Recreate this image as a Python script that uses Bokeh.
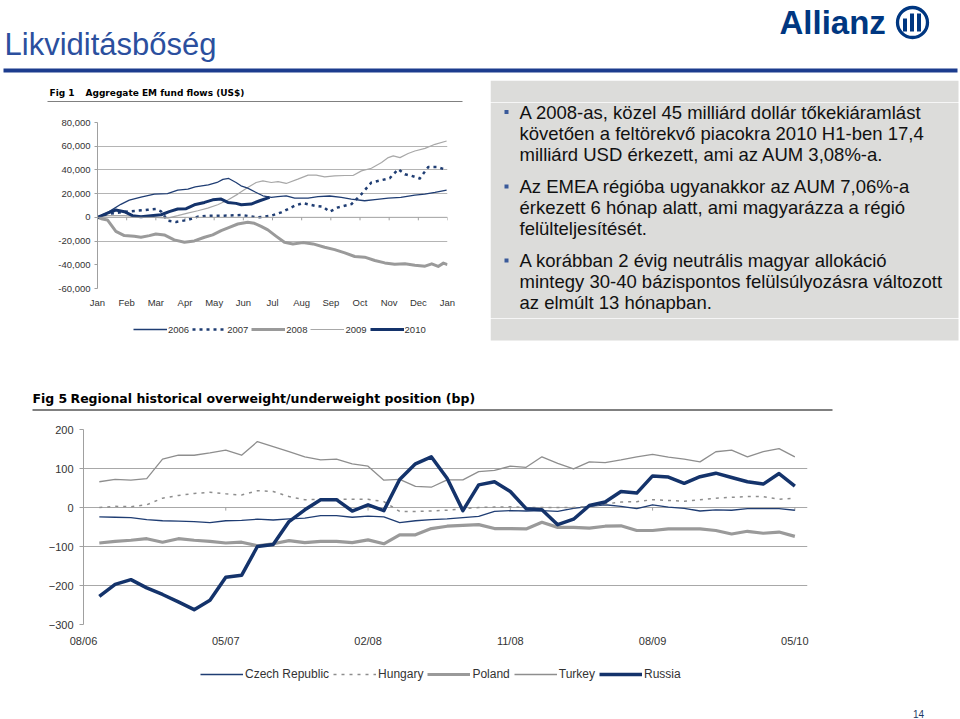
from bokeh.plotting import figure
from bokeh.models import Range1d, FixedTicker, NumeralTickFormatter, Legend, LegendItem, Span
from bokeh.layouts import column, row
from bokeh.embed import file_html
from bokeh.resources import INLINE
from bokeh.core.properties import value

# ---------------- data ----------------
slide_title = "Likviditásbőség"
fig1_title = "Aggregate EM fund flows (US$)"
fig5_title = "Regional historical overweight/underweight position (bp)"

months1 = ["Jan", "Feb", "Mar", "Apr", "May", "Jun", "Jul", "Aug", "Sep", "Oct", "Nov", "Dec", "Jan"]
years1 = ["2006", "2007", "2008", "2009", "2010"]

f06_x = [0, 0.34, 0.8, 1.09, 1.49, 1.95, 2.4, 2.75, 3.1, 3.35, 3.8, 4.1, 4.3, 4.5, 4.75, 4.92, 5.15, 5.44, 5.67,
         5.96, 6.18, 6.47, 6.76, 7.22, 7.56, 7.96, 8.36, 8.7, 9.16, 9.51, 9.97, 10.4, 10.88, 11.22, 11.57, 11.97]
f06_y = [0, 4000, 11000, 14500, 17000, 19600, 20000, 23000, 23800, 25700, 27400, 29400, 32000, 32800, 29400,
         26600, 24600, 21000, 18200, 16800, 17400, 18200, 16200, 16200, 17400, 18000, 16800, 15400, 14000, 15000,
         16200, 16800, 18800, 19600, 21000, 23000]

f07_x = [0, 0.34, 0.97, 1.37, 1.72, 2.0, 2.18, 2.41, 2.69, 3.09, 3.44, 3.78, 4.35, 4.93, 5.5, 5.96, 6.3, 6.76,
         7.04, 7.45, 7.73, 7.96, 8.25, 8.71, 9.05, 9.39, 9.74, 10.02, 10.31, 10.54, 10.77, 11.05, 11.34, 11.63, 11.97]
f07_y = [0, 2800, 4800, 5600, 6400, 7000, 5000, -2800, -3900, -2200, 600, 1400, 1400, 2000, 0, 1400, 4200, 9800,
         12000, 9800, 9000, 4800, 8400, 11200, 19600, 29400, 31400, 33000, 40600, 36400, 35000, 32800, 42500,
         42500, 40000]

f08_x = [0, 0.17, 0.34, 0.63, 0.92, 1.26, 1.49, 1.78, 2.0, 2.29, 2.63, 2.98, 3.32, 3.67, 3.95, 4.24, 4.52, 4.81,
         5.15, 5.38, 5.61, 5.84, 6.13, 6.41, 6.7, 7.04, 7.39, 7.79, 8.13, 8.48, 8.82, 9.16, 9.51, 9.85, 10.19,
         10.54, 10.88, 11.23, 11.46, 11.68, 11.86, 12.0]
f08_y = [0, -1400, -2200, -11800, -15400, -16000, -16800, -15400, -14000, -14800, -19000, -21000, -19900, -16800,
         -14800, -11200, -8400, -5600, -4200, -5000, -7600, -10600, -16000, -21000, -22400, -21300, -22400,
         -25200, -27200, -30000, -33000, -33600, -36400, -38400, -39500, -39200, -40300, -41200, -39200, -41400,
         -38600, -39800]

f09_x = [0, 0.34, 0.92, 1.49, 2.0, 2.41, 2.75, 3.09, 3.44, 3.78, 4.12, 4.47, 4.81, 5.15, 5.44, 5.67, 5.96, 6.19,
         6.47, 6.87, 7.22, 7.5, 7.79, 8.13, 8.48, 8.76, 9.05, 9.39, 9.74, 9.97, 10.14, 10.37, 10.65, 10.88, 11.23,
         11.57, 11.97]
f09_y = [0, 1400, 1400, 600, 0, -600, 1400, 3600, 5600, 7800, 10600, 14600, 19600, 25200, 29400, 30800, 29400,
         30200, 28600, 32200, 35600, 35600, 34200, 35000, 35300, 35300, 39200, 41400, 46200, 50400, 51800, 50400,
         53800, 56000, 58200, 61600, 64400]

f10_x = [0, 0.34, 0.63, 0.92, 1.2, 1.49, 1.83, 2.18, 2.46, 2.75, 3.04, 3.32, 3.67, 3.95, 4.24, 4.47, 4.75, 4.93,
         5.27, 5.56, 5.9]
f10_y = [0, 3600, 6200, 4800, 1400, 600, 1400, 2200, 4800, 7000, 7300, 10600, 12600, 14800, 15400, 12600, 11800,
         10600, 11200, 14000, 16800]

fig1_yticks = [-60000, -40000, -20000, 0, 20000, 40000, 60000, 80000]
fig1_grid = [-20000, 20000, 40000, 60000, 80000]

# Fig 5: monthly, month index counted from 08/06
months5 = list(range(1, 46))
fig5_tick_pos = [0, 9, 18, 27, 36, 45]
fig5_tick_lab = ["08/06", "05/07", "02/08", "11/08", "08/09", "05/10"]
fig5_yticks = [-300, -200, -100, 0, 100, 200]
countries = ["Czech Republic", "Hungary", "Poland", "Turkey", "Russia"]

czech = [-24, -25, -26, -31, -34, -35, -36, -39, -34, -33, -30, -32, -29, -27, -21, -21, -25, -22, -24, -39,
         -34, -31, -29, -26, -23, -10, -8, -9, -8, -10, -2, 3, 7, 3, -3, 7, 1, -2, -9, -6, -7, -3, -3, -3, -7]
hungary = [0, 3, 2, 7, 24, 31, 36, 39, 35, 32, 43, 41, 28, 20, 21, 21, 21, 21, 15, -10, -10, -9, -7, -3, 0, 1,
           2, 0, 0, 0, 0, 3, 9, 14, 15, 20, 18, 16, 20, 24, 26, 28, 28, 21, 24]
poland = [-91, -87, -84, -80, -89, -80, -84, -87, -91, -89, -98, -93, -85, -90, -87, -87, -90, -83, -93, -70,
          -70, -54, -48, -46, -44, -54, -54, -55, -38, -51, -51, -53, -48, -47, -59, -59, -55, -55, -55, -59,
          -68, -61, -66, -63, -74]
turkey = [66, 72, 70, 74, 124, 134, 134, 140, 147, 134, 169, 156, 143, 130, 122, 124, 112, 106, 70, 72, 54, 52,
          71, 71, 92, 95, 106, 103, 130, 113, 99, 117, 115, 122, 130, 136, 129, 124, 117, 143, 147, 130, 143, 151,
          130]
russia = [-228, -197, -185, -206, -223, -242, -262, -238, -179, -174, -100, -95, -36, -6, 20, 20, -9, 7, -8, 72,
          112, 130, 75, -8, 58, 66, 41, -3, -6, -44, -30, 5, 14, 41, 37, 81, 78, 62, 79, 88, 77, 66, 60, 87, 55]

bullets = [
    ["A 2008-as, közel 45 milliárd dollár tőkekiáramlást",
     "követően a feltörekvő piacokra 2010 H1-ben 17,4",
     "milliárd USD érkezett, ami az AUM 3,08%-a."],
    ["Az EMEA régióba ugyanakkor az AUM 7,06%-a",
     "érkezett 6 hónap alatt, ami magyarázza a régió",
     "felülteljesítését."],
    ["A korábban 2 évig neutrális magyar allokáció",
     "mintegy 30-40 bázispontos felülsúlyozásra változott",
     "az elmúlt 13 hónapban."],
]
page_no = "14"

# ---------------- styles ----------------
FONT = "Liberation Sans"
TFONT = "DejaVu Sans"
NAVY_THICK = "#14336B"
NAVY_THIN = "#1F3D73"
GRAY_THICK = "#9A9A9A"
GRAY_THIN = "#8E8E8E"
AXIS_GRAY = "#A0A0A0"
LABEL = "#333333"
LOGO = "#003781"
BOX = "#DCDCDA"
NAN = float("nan")

style1 = [dict(line_color=NAVY_THIN, line_width=1.3),
          dict(line_color=NAVY_THIN, line_width=2.5, line_dash="3 4"),
          dict(line_color=GRAY_THICK, line_width=3),
          dict(line_color="#A8A8A8", line_width=1.2),
          dict(line_color=NAVY_THICK, line_width=3)]
style5 = [dict(line_color=NAVY_THIN, line_width=1.3),
          dict(line_color=GRAY_THIN, line_width=1.5, line_dash="3 5"),
          dict(line_color=GRAY_THICK, line_width=3.2),
          dict(line_color=GRAY_THIN, line_width=1.3),
          dict(line_color=NAVY_THICK, line_width=3.5)]


def blank(w, h):
    f = figure(width=w, height=h, x_range=Range1d(0, w), y_range=Range1d(h, 0),
               x_axis_type=None, y_axis_type=None, output_backend="svg",
               toolbar_location=None, min_border=0, frame_align=False)
    f.outline_line_color = None
    f.background_fill_color = None
    f.border_fill_color = None
    return f


def legend_fig(w, h, labels, styles, loc, glyph_w, font_size, standoff, spacing):
    # legend-only strip: invisible (NaN) renderers carry the line styles of the chart series
    f = blank(w, h)
    items = []
    for lab, st in zip(labels, styles):
        r = f.line(x=[0, 1], y=[NAN, NAN], line_join="round", **st)
        items.append(LegendItem(label=lab, renderers=[r]))
    leg = Legend(items=items, orientation="horizontal", location=loc, glyph_width=glyph_w,
                 glyph_height=12, label_height=12, label_standoff=standoff, spacing=spacing,
                 padding=0, margin=0, border_line_color=None, background_fill_alpha=0,
                 label_text_font=FONT, label_text_font_size=font_size, label_text_color=LABEL)
    f.add_layout(leg)
    return f


# ---------------- header (0..80) ----------------
hdr = blank(960, 80)
hdr.text(x=[4], y=[44], text=[slide_title], text_font=value(FONT), text_font_size="31px",
         text_color="#2B4F9E", text_baseline="middle")
hdr.quad(left=[3], right=[957], top=[68], bottom=[72], fill_color="#1C3C8E", line_color=None)
hdr.text(x=[779], y=[21.5], text=["Allianz"], text_font=value(FONT), text_font_size="33px",
         text_font_style="bold", text_color=LOGO, text_baseline="middle")
hdr.circle(x=[912], y=[22], radius=15, fill_color=None, line_color=LOGO, line_width=3.3)
hdr.quad(left=[902.5, 909.5, 916.5], right=[906.5, 913.5, 920.5], top=[18, 13, 13], bottom=[31, 31, 31],
         fill_color=LOGO, line_color=None)

# ---------------- Fig 1 title (80..102) ----------------
t1 = blank(490, 22)
t1.text(x=[49, 85], y=[12, 12], text=["Fig 1", fig1_title], text_font=value(TFONT),
        text_font_size="9px", text_font_style="bold", text_color="#000000", text_baseline="middle")
t1.quad(left=[47], right=[462], top=[20.5], bottom=[22], fill_color="#808080", line_color=None)

tbt = blank(470, 22)
tbt.quad(left=[0], right=[468], top=[0], bottom=[22], fill_color=BOX, line_color=None)

# ---------------- Fig 1 chart (102..318) ----------------
p1 = figure(frame_width=350, frame_height=166, x_range=Range1d(0, 12), y_range=Range1d(-60000, 80000),
            output_backend="svg", toolbar_location=None, frame_align=False,
            min_border_left=97, min_border_right=43, min_border_top=20, min_border_bottom=30)
p1.outline_line_color = None
p1.xgrid.visible = False
p1.ygrid.ticker = FixedTicker(ticks=fig1_grid)
p1.ygrid.grid_line_color = "#B4B4B4"
p1.yaxis.ticker = FixedTicker(ticks=fig1_yticks)
p1.yaxis.formatter = NumeralTickFormatter(format="0,0")
p1.yaxis.axis_line_color = AXIS_GRAY
p1.yaxis.major_tick_line_color = AXIS_GRAY
p1.yaxis.major_tick_out = 3
p1.yaxis.major_tick_in = 0
p1.yaxis.minor_tick_line_color = None
p1.yaxis.major_label_standoff = 4
p1.xaxis.ticker = FixedTicker(ticks=list(range(len(months1))))
p1.xaxis.major_label_overrides = {i: m for i, m in enumerate(months1)}
p1.xaxis.axis_line_color = None
p1.xaxis.major_tick_line_color = None
p1.xaxis.minor_tick_line_color = None
p1.xaxis.major_label_standoff = 2
for ax in (p1.xaxis, p1.yaxis):
    ax.major_label_text_font = FONT
    ax.major_label_text_font_size = "9.5px"
    ax.major_label_text_color = LABEL

p1.add_layout(Span(location=0, dimension="width", line_color=AXIS_GRAY, line_width=1))
tick_x1 = list(range(len(months1)))
p1.segment(x0=tick_x1, y0=[0] * len(tick_x1), x1=tick_x1, y1=[-2500] * len(tick_x1),
           line_color=AXIS_GRAY, line_width=1)

series1 = [(f06_x, f06_y), (f07_x, f07_y), (f08_x, f08_y), (f09_x, f09_y), (f10_x, f10_y)]
for idx in [2, 3, 0, 1, 4]:  # draw order: grey lines below the navy ones
    xs, ys = series1[idx]
    p1.line(xs, ys, line_join="round", **style1[idx])

lf1 = legend_fig(490, 27, years1, style1, (133, 10), 34, "9.5px", 1, 3)

# ---------------- text box (102..318, 318..345) ----------------
tbb = blank(470, 216)
tbb.quad(left=[0], right=[468], top=[0], bottom=[216], fill_color=BOX, line_color=None)
line_y = [[9.5, 30.5, 51.5], [84, 105, 126], [158, 179, 200]]
tbb.scatter(x=[16, 16, 16], y=[ys[0] for ys in line_y], marker="square", size=4,
            fill_color="#3A5A9A", line_color=None)
all_txt, all_y = [], []
for lines, ys in zip(bullets, line_y):
    all_txt += lines
    all_y += ys
tbb.text(x=[29] * len(all_txt), y=all_y, text=all_txt, text_font=value(FONT), text_font_size="18.5px",
         text_color="#111111", text_baseline="middle")

tbb2 = blank(470, 27)
tbb2.quad(left=[0], right=[468], top=[0], bottom=[22], fill_color=BOX, line_color=None)

# ---------------- Fig 5 title (345..415) ----------------
t5 = blank(960, 70)
t5.text(x=[32, 70], y=[52.5, 52.5], text=["Fig 5", fig5_title], text_font=value(TFONT),
        text_font_size="12.5px", text_font_style="bold", text_color="#000000", text_baseline="middle")
t5.quad(left=[32], right=[832], top=[63.5], bottom=[65.5], fill_color="#808080", line_color=None)

# ---------------- Fig 5 chart (415..655) ----------------
p5 = figure(frame_width=724, frame_height=195, x_range=Range1d(0, 45.8), y_range=Range1d(-300, 200),
            output_backend="svg", toolbar_location=None, frame_align=False,
            min_border_left=83, min_border_right=153, min_border_top=14, min_border_bottom=31)
p5.outline_line_color = None
p5.xgrid.visible = False
p5.ygrid.ticker = FixedTicker(ticks=fig5_yticks)
p5.ygrid.grid_line_color = "#A8A8A8"
p5.yaxis.ticker = FixedTicker(ticks=fig5_yticks)
p5.yaxis.axis_line_color = AXIS_GRAY
p5.yaxis.major_tick_line_color = AXIS_GRAY
p5.yaxis.major_tick_out = 4
p5.yaxis.major_tick_in = 0
p5.yaxis.minor_tick_line_color = None
p5.yaxis.major_label_standoff = 6
p5.xaxis.ticker = FixedTicker(ticks=fig5_tick_pos)
p5.xaxis.major_label_overrides = dict(zip(fig5_tick_pos, fig5_tick_lab))
p5.xaxis.axis_line_color = None
p5.xaxis.major_tick_line_color = None
p5.xaxis.minor_tick_line_color = None
p5.xaxis.major_label_standoff = 4
for ax in (p5.xaxis, p5.yaxis):
    ax.major_label_text_font = FONT
    ax.major_label_text_font_size = "11px"
    ax.major_label_text_color = LABEL

p5.segment(x0=fig5_tick_pos, y0=[0] * 6, x1=fig5_tick_pos, y1=[-8] * 6, line_color=AXIS_GRAY, line_width=1)

series5 = [czech, hungary, poland, turkey, russia]
for ys, st in zip(series5, style5):
    p5.line(months5, ys, line_join="round", **st)

# ---------------- Fig 5 legend + page number (655..719) ----------------
lf5 = legend_fig(960, 64, countries, style5, (200, 38), 43, "12px", 2, 4)
lf5.text(x=[918], y=[58], text=[page_no], text_font=value(FONT), text_font_size="10px",
         text_color="#1F3864", text_align="center", text_baseline="middle")

layout = column(hdr, row(t1, tbt), row(p1, tbb), row(lf1, tbb2), t5, p5, lf5)
open("out.html", "w").write(file_html(layout, INLINE, "Likviditásbőség"))
